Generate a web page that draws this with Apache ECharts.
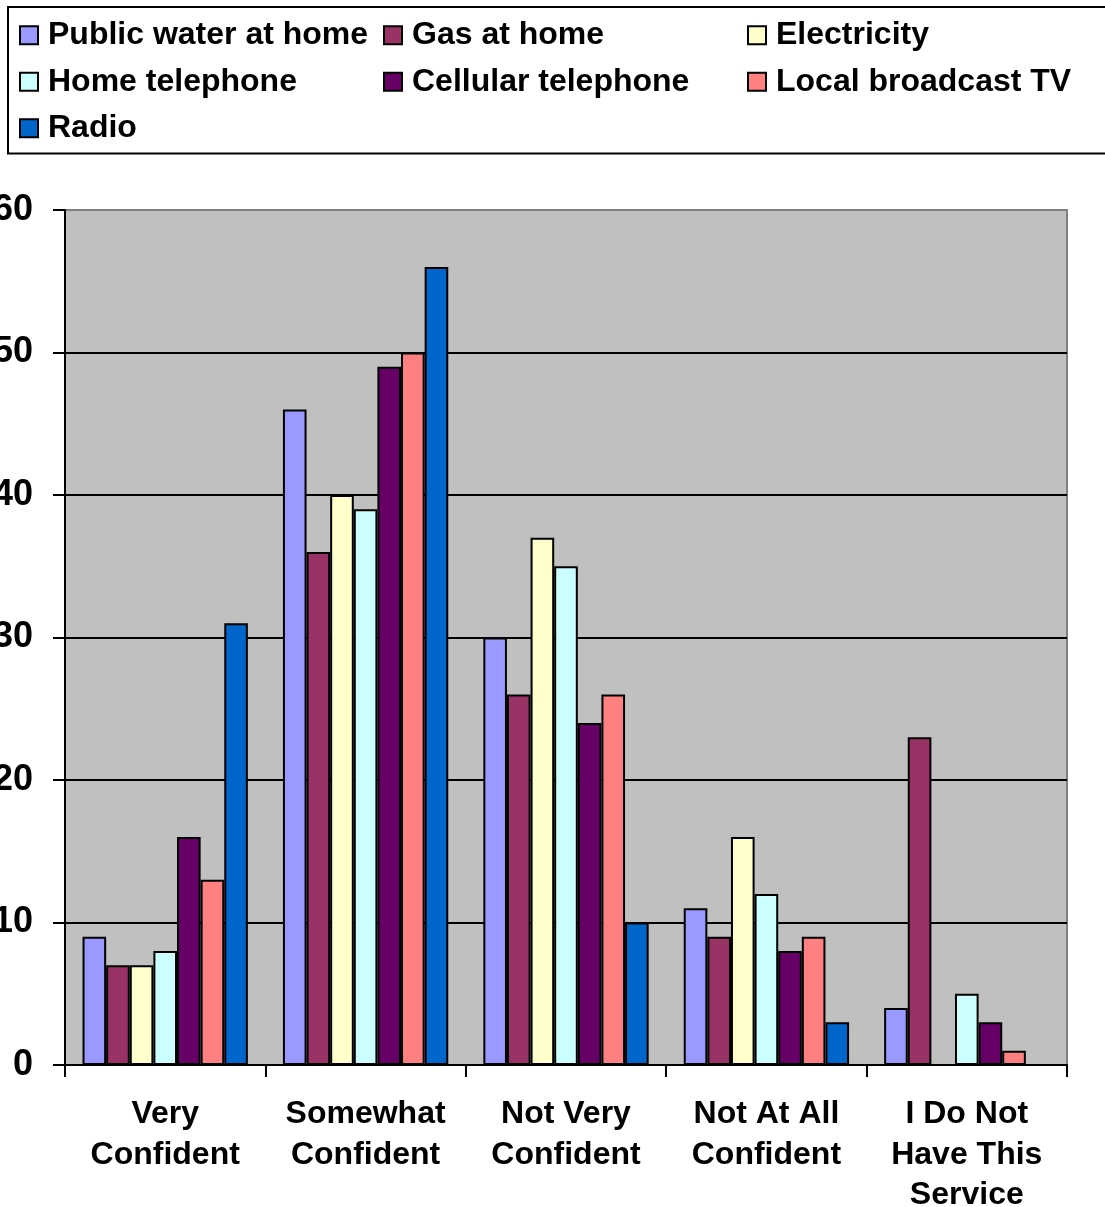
<!DOCTYPE html>
<html>
<head>
<meta charset="utf-8">
<script src="https://cdn.jsdelivr.net/npm/echarts@6/dist/echarts.min.js"></script>
<style>
  html, body { margin: 0; padding: 0; background: #fff; }
  #chart { width: 1105px; height: 1207px; }
</style>
</head>
<body>
<div id="chart"></div>
<script>
// Confidence levels (x-axis categories)
const categories = [
  'Very\nConfident',
  'Somewhat\nConfident',
  'Not Very\nConfident',
  'Not At All\nConfident',
  'I Do Not\nHave This\nService'
];

// Percent of respondents per service, one array per service
const publicWater = [9, 46, 30, 11, 4];
const gasAtHome = [7, 36, 26, 9, 23];
const electricity = [7, 40, 37, 16, 0];
const homeTelephone = [8, 39, 35, 12, 5];
const cellularTelephone = [16, 49, 24, 8, 3];
const localBroadcastTV = [13, 50, 26, 9, 1];
const radio = [31, 56, 10, 3, 0];

const seriesNames = [
  'Public water at home', 'Gas at home', 'Electricity',
  'Home telephone', 'Cellular telephone', 'Local broadcast TV', 'Radio'
];
const seriesValues = [
  publicWater, gasAtHome, electricity, homeTelephone,
  cellularTelephone, localBroadcastTV, radio
];
const seriesColors = [
  '#9999FF', '#993366', '#FFFFCC', '#CCFFFF', '#660066', '#FF8080', '#0066CC'
];

// Value axis ticks
const yMin = 0, yMax = 60, yStep = 10;

const font = "'Liberation Sans', Arial, Helvetica, sans-serif";

const chart = echarts.init(document.getElementById('chart'), null, { renderer: 'canvas' });

chart.setOption({
  backgroundColor: '#ffffff',
  animation: false,
  legend: {
    left: 8,
    top: 7,
    width: 1110,
    orient: 'horizontal',
    padding: [5, 0, 2, 11],
    itemGap: 0,
    itemWidth: 18,
    itemHeight: 18,
    icon: 'rect',
    borderColor: '#000',
    borderWidth: 2,
    selectedMode: false,
    textStyle: {
      fontFamily: font,
      fontWeight: 'bold',
      fontSize: 32,
      color: '#000',
      lineHeight: 46.5,
      width: 335,
      padding: [0, 0, 0, 5]
    },
    data: seriesNames
  },
  grid: {
    left: 65,
    right: 38,
    top: 210,
    bottom: 142,
    show: true,
    backgroundColor: '#C0C0C0',
    borderColor: '#808080',
    borderWidth: 2,
    containLabel: false,
    outerBoundsMode: 'none'
  },
  xAxis: {
    type: 'category',
    data: categories,
    boundaryGap: true,
    axisLine: { show: true, lineStyle: { color: '#000', width: 2 } },
    axisTick: { show: true, length: 12, lineStyle: { color: '#000', width: 2 } },
    axisLabel: {
      interval: 0,
      margin: 29,
      fontFamily: font,
      fontWeight: 'bold',
      fontSize: 32,
      lineHeight: 40.5,
      color: '#000',
      align: 'center'
    },
    splitLine: { show: false }
  },
  yAxis: {
    type: 'value',
    min: yMin,
    max: yMax,
    interval: yStep,
    axisLine: { show: true, lineStyle: { color: '#000', width: 2 } },
    axisTick: { show: true, length: 12, lineStyle: { color: '#000', width: 2 } },
    axisLabel: {
      margin: 32,
      fontFamily: font,
      fontWeight: 'bold',
      fontSize: 36,
      color: '#000'
    },
    splitLine: {
      show: true,
      lineStyle: {
        color: ['#000', '#000', '#000', '#000', '#000', '#000', '#808080'],
        width: 2
      }
    }
  },
  series: seriesNames.map((name, i) => ({
    name: name,
    type: 'bar',
    data: seriesValues[i],
    barGap: '0%',
    barCategoryGap: '17.5%',
    itemStyle: {
      color: seriesColors[i],
      borderColor: '#000',
      borderWidth: 2
    }
  }))
});
</script>
</body>
</html>
